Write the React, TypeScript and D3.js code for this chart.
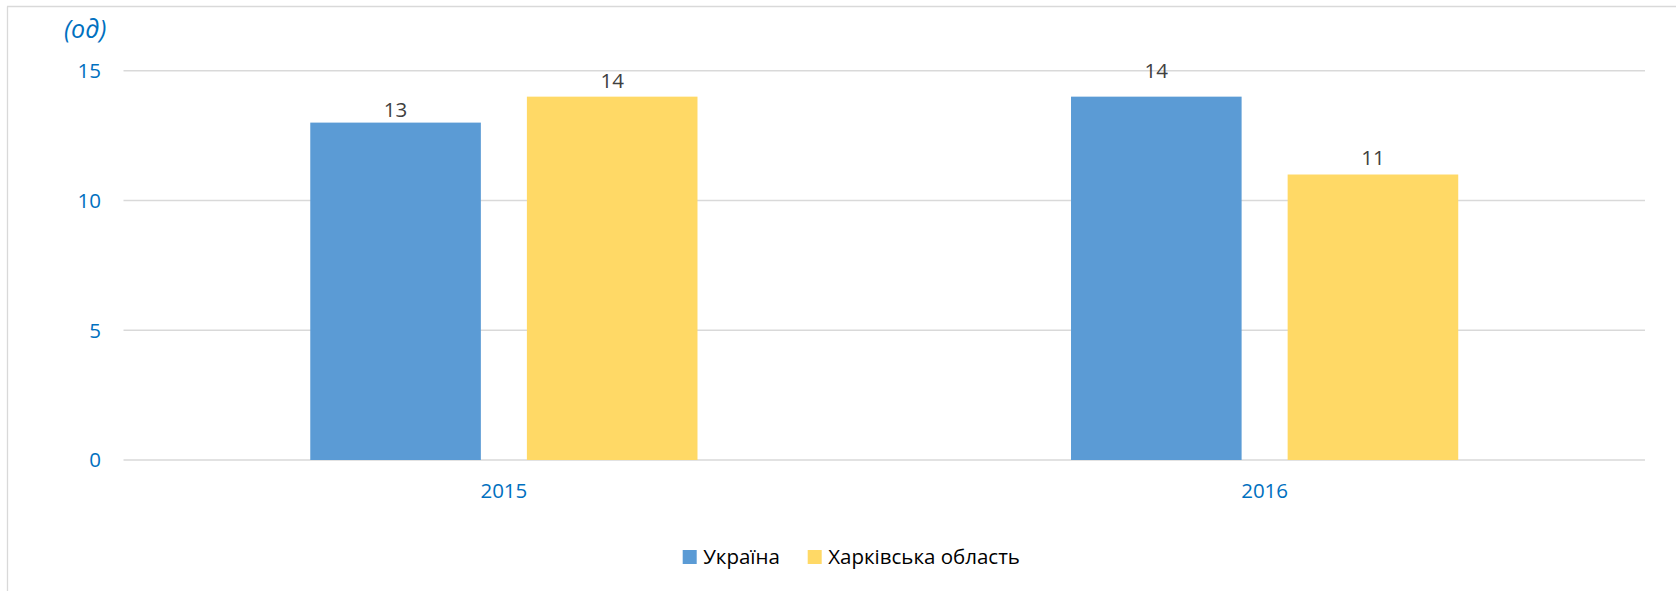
import React from "react";
import * as d3 from "d3";

const categories = ["2015", "2016"];
const seriesNames = ["Україна", "Харківська область"];
const ukraineValues = [13, 14];
const kharkivValues = [14, 11];
const yTicks = [0, 5, 10, 15];
const unitLabel = "(од)";

const seriesColors = ["#5B9BD5", "#FFD966"];
// manual data-label lifts (px above bar top), as placed in the source chart
const labelLift = [
  [5.4, 18.7],
  [8.7, 10],
];

const W = 1676;
const H = 591;
const FONT = "'Open Sans', 'Noto Sans', sans-serif";

export default function App() {
  const seriesValues = [ukraineValues, kharkivValues];
  const x0 = d3
    .scaleBand<string>()
    .domain(categories)
    .range([123.5, 1645])
    .paddingInner(0.491)
    .paddingOuter(0.2455);
  const x1 = d3
    .scaleBand<number>()
    .domain(seriesNames.map((_, i) => i))
    .range([0, x0.bandwidth()])
    .paddingInner(0.2125);
  const y = d3.scaleLinear().domain([0, 15]).range([460, 70.7]);

  return (
    <div style={{ position: "absolute", left: 0, top: 0 }}>
      <svg width={W} height={H} style={{ display: "block", background: "#fff" }}>
        <rect x={0} y={0} width={W} height={H} fill="#fff" />
        {/* chart frame */}
        <line x1={7.5} x2={7.5} y1={6.5} y2={H} stroke="#D9D9D9" strokeWidth={1.3} />
        <line x1={7} x2={W} y1={6.5} y2={6.5} stroke="#D9D9D9" strokeWidth={1.3} />

        {/* gridlines */}
        {yTicks.map((t) => (
          <line
            key={"g" + t}
            x1={123.5}
            x2={1645}
            y1={y(t)}
            y2={y(t)}
            stroke="#D9D9D9"
            strokeWidth={1.4}
          />
        ))}

        {/* y tick labels */}
        {yTicks.map((t) => (
          <text
            key={"t" + t}
            x={101}
            y={y(t)}
            dy="0.36em"
            textAnchor="end"
            fontFamily={FONT}
            fontSize={20.5}
            fill="#0070C0"
          >
            {t}
          </text>
        ))}

        <text
          x={64}
          y={38}
          fontFamily={FONT}
          fontSize={25}
          fontStyle="italic"
          fill="#0070C0"
        >
          {unitLabel}
        </text>

        {/* bars */}
        {categories.map((c, ci) =>
          seriesValues.map((vals, si) => {
            const bx = (x0(c) as number) + (x1(si) as number);
            const by = y(vals[ci]);
            return (
              <g key={c + si}>
                <rect
                  x={bx}
                  y={by}
                  width={x1.bandwidth()}
                  height={y(0) - by}
                  fill={seriesColors[si]}
                />
                <text
                  x={bx + x1.bandwidth() / 2}
                  y={by - labelLift[si][ci]}
                  textAnchor="middle"
                  fontFamily={FONT}
                  fontSize={20.5}
                  fill="#404040"
                >
                  {vals[ci]}
                </text>
              </g>
            );
          })
        )}

        {/* x labels */}
        {categories.map((c) => (
          <text
            key={"x" + c}
            x={(x0(c) as number) + x0.bandwidth() / 2}
            y={498}
            textAnchor="middle"
            fontFamily={FONT}
            fontSize={20.5}
            fill="#0070C0"
          >
            {c}
          </text>
        ))}

        {/* legend */}
        {seriesNames.map((n, i) => {
          const lx = [682.7, 807.7][i];
          return (
            <g key={"l" + i}>
              <rect x={lx} y={550} width={14} height={14} fill={seriesColors[i]} />
              <text
                x={lx + 20.5}
                y={564.3}
                fontFamily={FONT}
                fontSize={20.5}
                fill="#000"
              >
                {n}
              </text>
            </g>
          );
        })}
      </svg>
    </div>
  );
}
